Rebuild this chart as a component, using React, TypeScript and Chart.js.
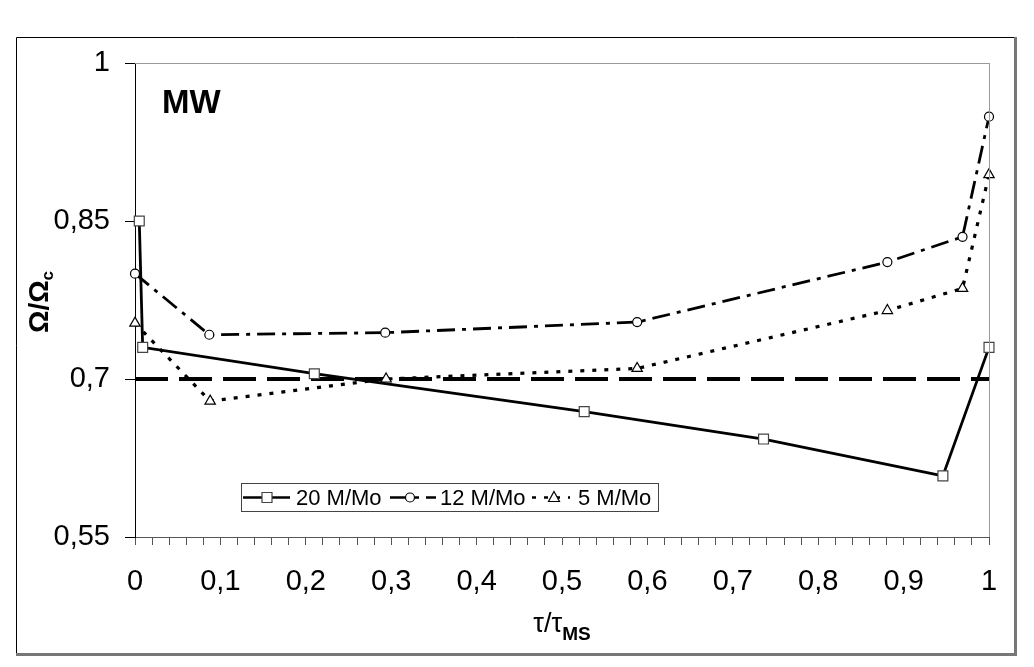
import { useEffect, useRef } from "react";
import { Chart, registerables } from "chart.js";

Chart.register(...registerables);

const SERIES_LABELS = ["20 M/Mo", "12 M/Mo", "5 M/Mo"];

const X_20 = [0.005, 0.009, 0.21, 0.526, 0.736, 0.946, 1];
const Y_20 = [0.85, 0.73, 0.705, 0.669, 0.643, 0.608, 0.73];

const X_12 = [0, 0.087, 0.293, 0.588, 0.881, 0.969, 1];
const Y_12 = [0.8, 0.742, 0.744, 0.754, 0.811, 0.835, 0.949];

const X_5 = [0, 0.088, 0.294, 0.588, 0.881, 0.969, 1];
const Y_5 = [0.753, 0.679, 0.7, 0.71, 0.765, 0.786, 0.894];

const REF_X = [0, 1];
const REF_Y = [0.7, 0.7];

const Y_TICKS = [0.55, 0.7, 0.85, 1];
const X_MIN = 0;
const X_MAX = 1;
const X_STEP = 0.02;

const FONT = "'Liberation Sans', Arial, sans-serif";

const DASH_20: number[] = [];
const DASH_12 = [18, 7, 4, 7];
const DASH_5 = [4, 8];
const DASH_REF = [33, 11];

const toPoints = (xs: number[], ys: number[]) => xs.map((x, i) => ({ x, y: ys[i] }));

const fmt = (v: number) => String(Math.round(v * 100) / 100).replace(".", ",");

function drawMarker(ctx: CanvasRenderingContext2D, style: string, x: number, y: number) {
    ctx.save();
    ctx.setLineDash([]);
    ctx.fillStyle = "#fff";
    ctx.lineWidth = 1.2;
    ctx.strokeStyle = "#000";
    ctx.beginPath();
    if (style === "rect") {
        ctx.strokeStyle = "#444";
        ctx.rect(x - 5, y - 5, 10, 10);
    } else if (style === "circle") {
        ctx.arc(x, y, 4.5, 0, Math.PI * 2);
    } else {
        ctx.moveTo(x, y - 6);
        ctx.lineTo(x + 5.5, y + 4);
        ctx.lineTo(x - 5.5, y + 4);
        ctx.closePath();
    }
    ctx.fill();
    ctx.stroke();
    ctx.restore();
}

const decorPlugin = {
    id: "decor",
    afterDraw(chart: Chart) {
        const { ctx, chartArea } = chart;
        const { left, right, top, bottom } = chartArea;
        ctx.save();

        // plot border (top / right)
        ctx.strokeStyle = "#999";
        ctx.lineWidth = 1;
        ctx.beginPath();
        ctx.moveTo(left, top + 0.5);
        ctx.lineTo(right, top + 0.5);
        ctx.moveTo(right + 0.5, top);
        ctx.lineTo(right + 0.5, bottom);
        ctx.stroke();

        // outer frame
        ctx.strokeStyle = "#000";
        ctx.lineWidth = 1;
        ctx.beginPath();
        ctx.moveTo(1015, 37.5);
        ctx.lineTo(16.5, 37.5);
        ctx.lineTo(16.5, 653);
        ctx.stroke();
        ctx.strokeStyle = "#777";
        ctx.lineWidth = 3;
        ctx.beginPath();
        ctx.moveTo(1015.5, 37);
        ctx.lineTo(1015.5, 654.5);
        ctx.lineTo(16, 654.5);
        ctx.stroke();

        // MW label
        ctx.fillStyle = "#000";
        ctx.font = `bold 33px ${FONT}`;
        ctx.textAlign = "left";
        ctx.textBaseline = "alphabetic";
        ctx.fillText("MW", 162, 113);

        // x title  τ/τ_MS
        const cx = (left + right) / 2;
        ctx.font = `27px ${FONT}`;
        const main = "τ/τ";
        const mw = ctx.measureText(main).width;
        ctx.font = `bold 19px ${FONT}`;
        const sw = ctx.measureText("MS").width;
        const x0 = cx - (mw + sw) / 2;
        ctx.font = `27px ${FONT}`;
        ctx.fillText(main, x0, 632);
        ctx.font = `bold 19px ${FONT}`;
        ctx.fillText("MS", x0 + mw, 640);

        // y title  Ω/Ω_c  (rotated)
        ctx.save();
        ctx.translate(48, 302);
        ctx.rotate(-Math.PI / 2);
        ctx.font = `bold 28px ${FONT}`;
        const ym = ctx.measureText("Ω/Ω").width;
        ctx.font = `bold 17px ${FONT}`;
        const ys = ctx.measureText("c").width;
        const y0 = -(ym + ys) / 2;
        ctx.font = `bold 28px ${FONT}`;
        ctx.fillText("Ω/Ω", y0, 0);
        ctx.font = `bold 17px ${FONT}`;
        ctx.fillText("c", y0 + ym, 5);
        ctx.restore();

        // legend
        const bx = 241, by = 483, bw = 417, bh = 28;
        ctx.fillStyle = "#fff";
        ctx.fillRect(bx, by, bw, bh);
        ctx.strokeStyle = "#444";
        ctx.lineWidth = 1;
        ctx.strokeRect(bx + 0.5, by + 0.5, bw, bh);
        const cy = by + bh / 2 + 0.5;
        const entries = [
            { dash: DASH_20, style: "rect", x1: 243, x2: 290, mx: 267, tx: 296 },
            { dash: DASH_12, style: "circle", x1: 390, x2: 436, mx: 410, tx: 440 },
            { dash: DASH_5, style: "triangle", x1: 532, x2: 570, mx: 554, tx: 578 },
        ];
        entries.forEach((e, i) => {
            ctx.strokeStyle = "#000";
            ctx.lineWidth = 2.5;
            ctx.setLineDash(e.dash);
            ctx.beginPath();
            ctx.moveTo(e.x1, cy);
            ctx.lineTo(e.x2, cy);
            ctx.stroke();
            ctx.setLineDash([]);
            drawMarker(ctx, e.style, e.mx, cy);
            ctx.fillStyle = "#000";
            ctx.font = `22px ${FONT}`;
            ctx.textBaseline = "middle";
            ctx.fillText(SERIES_LABELS[i], e.tx, cy + 1);
        });

        ctx.restore();
    },
};

export default function App() {
    const canvasRef = useRef<HTMLCanvasElement>(null);
    const chartRef = useRef<Chart | null>(null);

    useEffect(() => {
        document.body.style.margin = "0";
        if (!canvasRef.current) return;
        if (chartRef.current) chartRef.current.destroy();

        const lineSet = (label: string, xs: number[], ys: number[], dash: number[], style: string, width: number) => ({
            label,
            data: toPoints(xs, ys),
            showLine: true,
            borderColor: "#000",
            borderWidth: width,
            borderDash: dash,
            pointStyle: style,
            pointRadius: style === "rect" ? 7 : style === "circle" ? 4.5 : 6,
            pointBorderWidth: 1.2,
            pointBorderColor: style === "rect" ? "#444" : "#000",
            pointBackgroundColor: "#fff",
            clip: false,
            tension: 0,
        });

        chartRef.current = new Chart(canvasRef.current, {
            type: "scatter",
            data: {
                datasets: [
                    lineSet(SERIES_LABELS[0], X_20, Y_20, DASH_20, "rect", 2.8),
                    lineSet(SERIES_LABELS[1], X_12, Y_12, DASH_12, "circle", 2.8),
                    lineSet(SERIES_LABELS[2], X_5, Y_5, DASH_5, "triangle", 3.2),
                    {
                        label: "ref",
                        data: toPoints(REF_X, REF_Y),
                        showLine: true,
                        borderColor: "#000",
                        borderWidth: 4,
                        borderDash: DASH_REF,
                        pointRadius: 0,
                        clip: false,
                    },
                ],
            } as any,
            options: {
                animation: false,
                responsive: true,
                maintainAspectRatio: false,
                layout: { padding: { left: 0, top: 63, right: 45, bottom: 0 } },
                plugins: {
                    legend: { display: false },
                    tooltip: { enabled: false },
                },
                scales: {
                    x: {
                        type: "linear",
                        min: X_MIN,
                        max: X_MAX,
                        afterFit: (scale: any) => {
                            scale.height = 130;
                        },
                        border: { color: "#555", width: 1 },
                        grid: { drawOnChartArea: false, drawTicks: true, tickLength: 8, tickColor: "#555" },
                        ticks: {
                            stepSize: X_STEP,
                            autoSkip: false,
                            maxRotation: 0,
                            padding: 20,
                            color: "#000",
                            font: { family: FONT, size: 29 },
                            callback: (v: any) => {
                                const n = Number(v);
                                return Math.abs(n * 10 - Math.round(n * 10)) < 1e-6 ? fmt(n) : "";
                            },
                        },
                    },
                    y: {
                        type: "linear",
                        min: Y_TICKS[0],
                        max: Y_TICKS[Y_TICKS.length - 1],
                        afterFit: (scale: any) => {
                            scale.width = 135;
                        },
                        afterBuildTicks: (scale: any) => {
                            scale.ticks = Y_TICKS.map((value) => ({ value }));
                        },
                        border: { color: "#000", width: 1 },
                        grid: { drawOnChartArea: false, drawTicks: true, tickLength: 10, tickColor: "#000" },
                        ticks: {
                            padding: 15,
                            color: "#000",
                            font: { family: FONT, size: 29 },
                            callback: (v: any) => fmt(Number(v)),
                        },
                    },
                },
            },
            plugins: [decorPlugin],
        } as any);

        return () => {
            chartRef.current?.destroy();
            chartRef.current = null;
        };
    }, []);

    return (
        <div style={{ position: "relative", width: "1034px", height: "667px", background: "#fff" }}>
            <canvas ref={canvasRef} role="img" aria-label="Omega over Omega c versus tau over tau MS for 20, 12 and 5 solar masses" />
        </div>
    );
}
